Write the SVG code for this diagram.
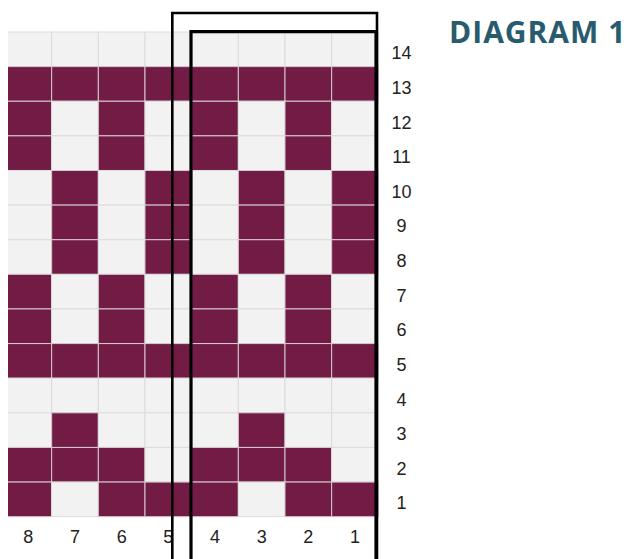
<svg xmlns="http://www.w3.org/2000/svg" width="628" height="559" viewBox="0 0 628 559">
<defs>
<style>
.d{fill:#711b45;stroke:#d6c9cf;stroke-width:1}
.l{fill:#f2f2f2;stroke:#dcdcdc;stroke-width:1}
.lab{font-family:"Liberation Sans",Arial,sans-serif;font-size:18px;fill:#222;text-anchor:middle}
.ttl{font-family:"Open Sans","Noto Sans",sans-serif;font-weight:bold;font-size:30px;fill:#295b6e;letter-spacing:1px}
.frame{fill:none;stroke:#000}
</style>
<clipPath id="gc"><rect x="8" y="31" width="372" height="487"/></clipPath>
</defs>
<rect width="628" height="559" fill="#fff"/>
<g id="grid" clip-path="url(#gc)">
<g id="row14">
<rect class="l" x="5" y="32" width="46.67" height="34.62"/><rect class="l" x="51.67" y="32" width="46.67" height="34.62"/><rect class="l" x="98.33" y="32" width="46.67" height="34.62"/><rect class="l" x="145" y="32" width="46.67" height="34.62"/><rect class="l" x="191.67" y="32" width="46.67" height="34.62"/><rect class="l" x="238.33" y="32" width="46.67" height="34.62"/><rect class="l" x="285" y="32" width="46.67" height="34.62"/><rect class="l" x="331.67" y="32" width="46.67" height="34.62"/>
</g>
<g id="row13">
<rect class="d" x="5" y="66.62" width="46.67" height="34.62"/><rect class="d" x="51.67" y="66.62" width="46.67" height="34.62"/><rect class="d" x="98.33" y="66.62" width="46.67" height="34.62"/><rect class="d" x="145" y="66.62" width="46.67" height="34.62"/><rect class="d" x="191.67" y="66.62" width="46.67" height="34.62"/><rect class="d" x="238.33" y="66.62" width="46.67" height="34.62"/><rect class="d" x="285" y="66.62" width="46.67" height="34.62"/><rect class="d" x="331.67" y="66.62" width="46.67" height="34.62"/>
</g>
<g id="row12">
<rect class="d" x="5" y="101.24" width="46.67" height="34.62"/><rect class="l" x="51.67" y="101.24" width="46.67" height="34.62"/><rect class="d" x="98.33" y="101.24" width="46.67" height="34.62"/><rect class="l" x="145" y="101.24" width="46.67" height="34.62"/><rect class="d" x="191.67" y="101.24" width="46.67" height="34.62"/><rect class="l" x="238.33" y="101.24" width="46.67" height="34.62"/><rect class="d" x="285" y="101.24" width="46.67" height="34.62"/><rect class="l" x="331.67" y="101.24" width="46.67" height="34.62"/>
</g>
<g id="row11">
<rect class="d" x="5" y="135.86" width="46.67" height="34.62"/><rect class="l" x="51.67" y="135.86" width="46.67" height="34.62"/><rect class="d" x="98.33" y="135.86" width="46.67" height="34.62"/><rect class="l" x="145" y="135.86" width="46.67" height="34.62"/><rect class="d" x="191.67" y="135.86" width="46.67" height="34.62"/><rect class="l" x="238.33" y="135.86" width="46.67" height="34.62"/><rect class="d" x="285" y="135.86" width="46.67" height="34.62"/><rect class="l" x="331.67" y="135.86" width="46.67" height="34.62"/>
</g>
<g id="row10">
<rect class="l" x="5" y="170.48" width="46.67" height="34.62"/><rect class="d" x="51.67" y="170.48" width="46.67" height="34.62"/><rect class="l" x="98.33" y="170.48" width="46.67" height="34.62"/><rect class="d" x="145" y="170.48" width="46.67" height="34.62"/><rect class="l" x="191.67" y="170.48" width="46.67" height="34.62"/><rect class="d" x="238.33" y="170.48" width="46.67" height="34.62"/><rect class="l" x="285" y="170.48" width="46.67" height="34.62"/><rect class="d" x="331.67" y="170.48" width="46.67" height="34.62"/>
</g>
<g id="row9">
<rect class="l" x="5" y="205.1" width="46.67" height="34.62"/><rect class="d" x="51.67" y="205.1" width="46.67" height="34.62"/><rect class="l" x="98.33" y="205.1" width="46.67" height="34.62"/><rect class="d" x="145" y="205.1" width="46.67" height="34.62"/><rect class="l" x="191.67" y="205.1" width="46.67" height="34.62"/><rect class="d" x="238.33" y="205.1" width="46.67" height="34.62"/><rect class="l" x="285" y="205.1" width="46.67" height="34.62"/><rect class="d" x="331.67" y="205.1" width="46.67" height="34.62"/>
</g>
<g id="row8">
<rect class="l" x="5" y="239.72" width="46.67" height="34.62"/><rect class="d" x="51.67" y="239.72" width="46.67" height="34.62"/><rect class="l" x="98.33" y="239.72" width="46.67" height="34.62"/><rect class="d" x="145" y="239.72" width="46.67" height="34.62"/><rect class="l" x="191.67" y="239.72" width="46.67" height="34.62"/><rect class="d" x="238.33" y="239.72" width="46.67" height="34.62"/><rect class="l" x="285" y="239.72" width="46.67" height="34.62"/><rect class="d" x="331.67" y="239.72" width="46.67" height="34.62"/>
</g>
<g id="row7">
<rect class="d" x="5" y="274.34" width="46.67" height="34.62"/><rect class="l" x="51.67" y="274.34" width="46.67" height="34.62"/><rect class="d" x="98.33" y="274.34" width="46.67" height="34.62"/><rect class="l" x="145" y="274.34" width="46.67" height="34.62"/><rect class="d" x="191.67" y="274.34" width="46.67" height="34.62"/><rect class="l" x="238.33" y="274.34" width="46.67" height="34.62"/><rect class="d" x="285" y="274.34" width="46.67" height="34.62"/><rect class="l" x="331.67" y="274.34" width="46.67" height="34.62"/>
</g>
<g id="row6">
<rect class="d" x="5" y="308.96" width="46.67" height="34.62"/><rect class="l" x="51.67" y="308.96" width="46.67" height="34.62"/><rect class="d" x="98.33" y="308.96" width="46.67" height="34.62"/><rect class="l" x="145" y="308.96" width="46.67" height="34.62"/><rect class="d" x="191.67" y="308.96" width="46.67" height="34.62"/><rect class="l" x="238.33" y="308.96" width="46.67" height="34.62"/><rect class="d" x="285" y="308.96" width="46.67" height="34.62"/><rect class="l" x="331.67" y="308.96" width="46.67" height="34.62"/>
</g>
<g id="row5">
<rect class="d" x="5" y="343.58" width="46.67" height="34.62"/><rect class="d" x="51.67" y="343.58" width="46.67" height="34.62"/><rect class="d" x="98.33" y="343.58" width="46.67" height="34.62"/><rect class="d" x="145" y="343.58" width="46.67" height="34.62"/><rect class="d" x="191.67" y="343.58" width="46.67" height="34.62"/><rect class="d" x="238.33" y="343.58" width="46.67" height="34.62"/><rect class="d" x="285" y="343.58" width="46.67" height="34.62"/><rect class="d" x="331.67" y="343.58" width="46.67" height="34.62"/>
</g>
<g id="row4">
<rect class="l" x="5" y="378.2" width="46.67" height="34.62"/><rect class="l" x="51.67" y="378.2" width="46.67" height="34.62"/><rect class="l" x="98.33" y="378.2" width="46.67" height="34.62"/><rect class="l" x="145" y="378.2" width="46.67" height="34.62"/><rect class="l" x="191.67" y="378.2" width="46.67" height="34.62"/><rect class="l" x="238.33" y="378.2" width="46.67" height="34.62"/><rect class="l" x="285" y="378.2" width="46.67" height="34.62"/><rect class="l" x="331.67" y="378.2" width="46.67" height="34.62"/>
</g>
<g id="row3">
<rect class="l" x="5" y="412.82" width="46.67" height="34.62"/><rect class="d" x="51.67" y="412.82" width="46.67" height="34.62"/><rect class="l" x="98.33" y="412.82" width="46.67" height="34.62"/><rect class="l" x="145" y="412.82" width="46.67" height="34.62"/><rect class="l" x="191.67" y="412.82" width="46.67" height="34.62"/><rect class="d" x="238.33" y="412.82" width="46.67" height="34.62"/><rect class="l" x="285" y="412.82" width="46.67" height="34.62"/><rect class="l" x="331.67" y="412.82" width="46.67" height="34.62"/>
</g>
<g id="row2">
<rect class="d" x="5" y="447.44" width="46.67" height="34.62"/><rect class="d" x="51.67" y="447.44" width="46.67" height="34.62"/><rect class="d" x="98.33" y="447.44" width="46.67" height="34.62"/><rect class="l" x="145" y="447.44" width="46.67" height="34.62"/><rect class="d" x="191.67" y="447.44" width="46.67" height="34.62"/><rect class="d" x="238.33" y="447.44" width="46.67" height="34.62"/><rect class="d" x="285" y="447.44" width="46.67" height="34.62"/><rect class="l" x="331.67" y="447.44" width="46.67" height="34.62"/>
</g>
<g id="row1">
<rect class="d" x="5" y="482.06" width="46.67" height="34.62"/><rect class="l" x="51.67" y="482.06" width="46.67" height="34.62"/><rect class="d" x="98.33" y="482.06" width="46.67" height="34.62"/><rect class="d" x="145" y="482.06" width="46.67" height="34.62"/><rect class="d" x="191.67" y="482.06" width="46.67" height="34.62"/><rect class="l" x="238.33" y="482.06" width="46.67" height="34.62"/><rect class="d" x="285" y="482.06" width="46.67" height="34.62"/><rect class="d" x="331.67" y="482.06" width="46.67" height="34.62"/>
</g>
</g>
<g id="rowLabels">
<text class="lab" x="401.5" y="59.3">14</text>
<text class="lab" x="401.5" y="93.9">13</text>
<text class="lab" x="401.5" y="128.5">12</text>
<text class="lab" x="401.5" y="163.2">11</text>
<text class="lab" x="401.5" y="197.8">10</text>
<text class="lab" x="401.5" y="232.4">9</text>
<text class="lab" x="401.5" y="267">8</text>
<text class="lab" x="401.5" y="301.6">7</text>
<text class="lab" x="401.5" y="336.3">6</text>
<text class="lab" x="401.5" y="370.9">5</text>
<text class="lab" x="401.5" y="405.5">4</text>
<text class="lab" x="401.5" y="440.1">3</text>
<text class="lab" x="401.5" y="474.8">2</text>
<text class="lab" x="401.5" y="509.4">1</text>
</g>
<g id="colLabels">
<text class="lab" x="28.3" y="543">8</text>
<text class="lab" x="75" y="543">7</text>
<text class="lab" x="121.7" y="543">6</text>
<text class="lab" x="168.3" y="543">5</text>
<text class="lab" x="215" y="543">4</text>
<text class="lab" x="261.7" y="543">3</text>
<text class="lab" x="308.3" y="543">2</text>
<text class="lab" x="355" y="543">1</text>
</g>
<g id="frames">
<path class="frame" stroke-width="2.6" d="M172.3,562 V13 H377 V562"/>
<path class="frame" stroke-width="3.2" d="M191,562 V31.6 H376 V562"/>
</g>
<g id="title">
<text class="ttl" x="449" y="43">DIAGRAM 1</text>
</g>
</svg>
